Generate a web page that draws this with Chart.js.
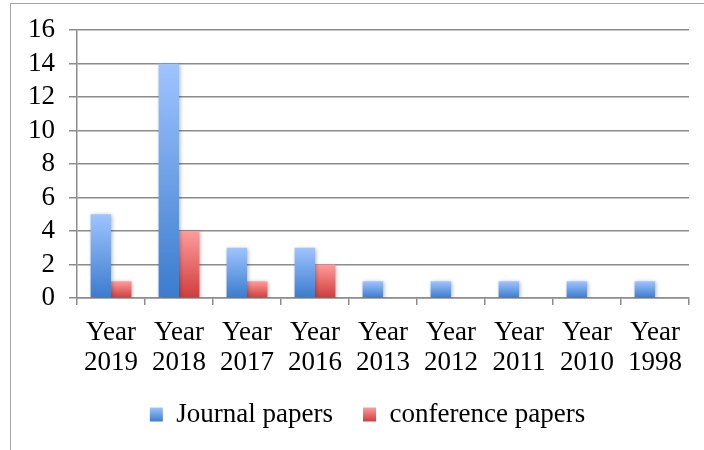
<!DOCTYPE html>
<html>
<head>
<meta charset="utf-8">
<script src="https://cdn.jsdelivr.net/npm/chart.js@4"></script>
<style>
  html, body { margin: 0; padding: 0; background: #fff; }
  #wrap { position: relative; width: 704px; height: 450px; overflow: hidden; }
  #frame { position: absolute; left: 10px; top: 3px; width: 720px; height: 460px; border-left: 1px solid #a6a6a6; border-top: 1px solid #a6a6a6; box-sizing: border-box; }
  canvas { position: absolute; left: 0; top: 0; }
</style>
</head>
<body>
<div id="wrap">
  <div id="frame"></div>
  <canvas id="c" width="704" height="450"></canvas>
</div>
<script>
const categories = [["Year","2019"],["Year","2018"],["Year","2017"],["Year","2016"],["Year","2013"],["Year","2012"],["Year","2011"],["Year","2010"],["Year","1998"]];
const journalPapers = [5, 14, 3, 3, 1, 1, 1, 1, 1];
const conferencePapers = [1, 4, 1, 2, 0, 0, 0, 0, 0];
const seriesNames = ["Journal papers", "conference papers"];
const yTicks = [0, 2, 4, 6, 8, 10, 12, 14, 16];

const FONT = "'Liberation Serif', 'Times New Roman', serif";
const COLS = [['#9fc4ff', '#3b7bcd'], ['#ff9c9c', '#cf3c3c']];

function grad(top, bottom) {
  return function(context) {
    const chart = context.chart;
    const y = chart.scales && chart.scales.y;
    if (!y || context.type !== 'data') return bottom;
    const v = context.parsed ? context.parsed.y : 0;
    const y0 = y.getPixelForValue(0);
    let y1 = y.getPixelForValue(v);
    if (Math.abs(y0 - y1) < 1) y1 = y0 - 1;
    const g = chart.ctx.createLinearGradient(0, y1, 0, y0);
    g.addColorStop(0, top);
    g.addColorStop(1, bottom);
    return g;
  };
}

const shadowPlugin = {
  id: 'shadow',
  beforeDatasetsDraw(chart) {
    const ctx = chart.ctx;
    ctx.save();
    ctx.shadowColor = 'rgba(0,0,0,0.3)';
    ctx.shadowBlur = 4;
    ctx.shadowOffsetX = 1;
    ctx.shadowOffsetY = 1;
  },
  afterDatasetsDraw(chart) {
    chart.ctx.restore();
  }
};

const legendShiftPlugin = {
  id: 'legendShift',
  afterLayout(chart) {
    const lg = chart.legend;
    if (!lg) return;
    lg.left += 23;
    lg.right += 23;
  }
};

const legendGradPlugin = {
  id: 'legendGrad',
  beforeDraw(chart) {
    const lg = chart.legend;
    if (!lg || !lg.legendItems || !lg.legendHitBoxes) return;
    lg.legendItems.forEach((item, i) => {
      const hb = lg.legendHitBoxes[i];
      if (!hb) return;
      const top = hb.top + (hb.height - 14) / 2;
      const g = chart.ctx.createLinearGradient(0, top, 0, top + 14);
      g.addColorStop(0, COLS[i][0]);
      g.addColorStop(1, COLS[i][1]);
      item.fillStyle = g;
    });
  }
};

new Chart(document.getElementById('c'), {
  type: 'bar',
  data: {
    labels: categories,
    datasets: [
      { label: seriesNames[0], data: journalPapers, backgroundColor: grad(COLS[0][0], COLS[0][1]), borderWidth: 0 },
      { label: seriesNames[1], data: conferencePapers, backgroundColor: grad(COLS[1][0], COLS[1][1]), borderWidth: 0 }
    ]
  },
  plugins: [shadowPlugin, legendShiftPlugin, legendGradPlugin],
  options: {
    responsive: false,
    animation: false,
    devicePixelRatio: 1,
    categoryPercentage: 0.6,
    barPercentage: 1.0,
    layout: { padding: { left: 0, right: 15, top: 29, bottom: 12 } },
    plugins: {
      tooltip: { enabled: false },
      legend: {
        position: 'bottom',
        labels: {
          font: { family: FONT, size: 27 },
          color: '#000',
          boxWidth: 13,
          boxHeight: 14,
          padding: 30,
          generateLabels(chart) {
            return chart.data.datasets.map((ds, i) => ({
              text: ds.label,
              fillStyle: COLS[i][1],
              strokeStyle: 'rgba(0,0,0,0)',
              lineWidth: 0,
              hidden: false,
              datasetIndex: i,
              fontColor: '#000'
            }));
          }
        }
      }
    },
    scales: {
      x: {
        offset: true,
        grid: {
          offset: true,
          drawOnChartArea: false,
          drawTicks: true,
          tickLength: 7,
          color: '#8c8c8c',
          lineWidth: 1.5
        },
        border: { display: true, color: '#8c8c8c', width: 1.5 },
        ticks: {
          font: { family: FONT, size: 27, lineHeight: 1.1 },
          color: '#000',
          padding: 13,
          maxRotation: 0,
          autoSkip: false
        },
        afterFit(s) { s.height = 73; }
      },
      y: {
        min: 0,
        max: 16,
        afterBuildTicks(s) { s.ticks = yTicks.map(v => ({ value: v })); },
        grid: { color: '#8c8c8c', lineWidth: 1.5, drawTicks: true, tickLength: 8 },
        border: { display: true, color: '#8c8c8c', width: 1.5 },
        ticks: { font: { family: FONT, size: 27 }, color: '#000', padding: 14, autoSkip: false },
        afterFit(s) { s.width = 77; }
      }
    }
  }
});
</script>
</body>
</html>
